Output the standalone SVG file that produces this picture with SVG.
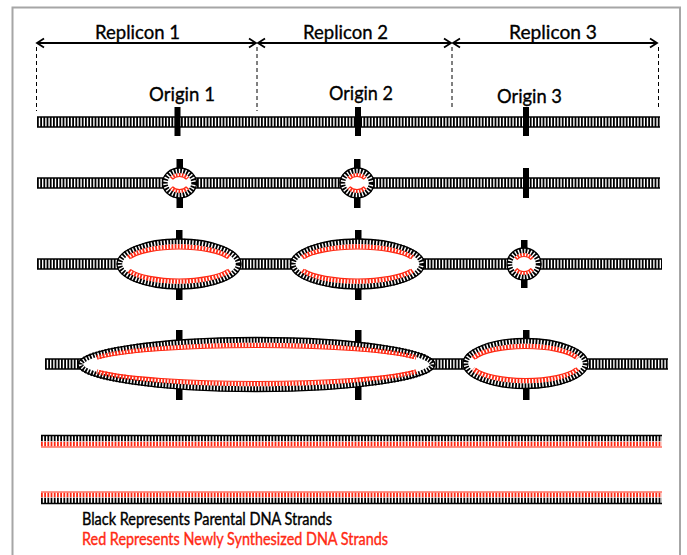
<svg xmlns="http://www.w3.org/2000/svg" width="687" height="555" viewBox="0 0 687 555">
  <defs>
    <marker id="chev" viewBox="-9 -6 11 12" markerWidth="11" markerHeight="12" refX="0" refY="0" orient="auto-start-reverse" markerUnits="userSpaceOnUse">
      <path d="M-7,-4.5 L0,0 L-7,4.5" fill="none" stroke="#000" stroke-width="1.8"/>
    </marker>
    <style>
      .frame { fill: none; stroke: #a6a6a6; stroke-width: 2; }
      .span { stroke: #000; stroke-width: 1.8; marker-start: url(#chev); marker-end: url(#chev); }
      .guide { stroke: #000; stroke-width: 1; stroke-dasharray: 4 3; }
      .lbl { font-family: Lato, "Liberation Sans", sans-serif; font-size: 20px; fill: #000; stroke: #000; stroke-width: 0.35; }
      .legend { font-family: Lato, "Liberation Sans", sans-serif; font-size: 17px; stroke-width: 0.4; }
      .rail { stroke: #000; stroke-width: 1.3; fill: none; }
      .rungs { stroke: #000; stroke-width: 10; stroke-dasharray: 1.8 1.4; fill: none; }
      .halfK { stroke: #000; stroke-width: 5.5; stroke-dasharray: 1.8 1.4; fill: none; }
      .halfR { stroke: #ff2a14; stroke-width: 4.5; stroke-dasharray: 1.8 1.4; fill: none; }
      .halfRs { stroke: #ff2a14; stroke-width: 3.5; stroke-dasharray: 1.6 1.3; fill: none; }
      .railR { stroke: #ff2a14; stroke-width: 1.2; fill: none; }
      .hole { fill: #fff; }
      .ori { fill: #000; }
    </style>
  </defs>

  <!-- outer frame -->
  <path class="frame" d="M12.5,555 V7.5 H680 V555"/>

  <!-- replicon spans -->
  <g id="replicons">
    <line class="span" x1="37" y1="43" x2="256" y2="43"/>
    <line class="span" x1="258" y1="43" x2="451" y2="43"/>
    <line class="span" x1="453" y1="43" x2="657" y2="43"/>
    <line class="guide" x1="36.5" y1="47" x2="36.5" y2="111"/>
    <line class="guide" x1="257" y1="47" x2="257" y2="111"/>
    <line class="guide" x1="452" y1="47" x2="452" y2="107"/>
    <line class="guide" x1="658.5" y1="47" x2="658.5" y2="110"/>
    <text class="lbl" x="137.5" y="39" text-anchor="middle" textLength="85" lengthAdjust="spacingAndGlyphs">Replicon 1</text>
    <text class="lbl" x="345.5" y="38.5" text-anchor="middle" textLength="85" lengthAdjust="spacingAndGlyphs">Replicon 2</text>
    <text class="lbl" x="553" y="38.5" text-anchor="middle" textLength="88" lengthAdjust="spacingAndGlyphs">Replicon 3</text>
    <text class="lbl" x="182" y="101" text-anchor="middle" textLength="66" lengthAdjust="spacingAndGlyphs">Origin 1</text>
    <text class="lbl" x="361" y="100" text-anchor="middle" textLength="64" lengthAdjust="spacingAndGlyphs">Origin 2</text>
    <text class="lbl" x="529.5" y="102.5" text-anchor="middle" textLength="65" lengthAdjust="spacingAndGlyphs">Origin 3</text>
  </g>

  <!-- stage 1: unreplicated duplex -->
  <g id="stage1">
    <line class="rungs" x1="37" y1="122" x2="660" y2="122"/>
    <line class="rail" x1="37" y1="117" x2="660" y2="117"/>
    <line class="rail" x1="37" y1="127" x2="660" y2="127"/>
    <rect class="ori" x="174.5" y="107" width="6" height="29"/>
    <rect class="ori" x="355" y="107" width="6" height="29"/>
    <rect class="ori" x="523" y="107" width="6" height="29"/>
  </g>

  <!-- stage 2: two small bubbles -->
  <g id="stage2">
    <line class="rungs" x1="37" y1="183" x2="660" y2="183"/>
    <line class="rail" x1="37" y1="178" x2="660" y2="178"/>
    <line class="rail" x1="37" y1="188" x2="660" y2="188"/>
    <rect class="ori" x="176.5" y="159" width="6.5" height="49"/>
    <rect class="ori" x="354" y="159" width="6.5" height="49"/>
    <rect class="ori" x="523" y="168" width="6" height="30"/>
    <g id="bubble-2a">
      <ellipse class="hole" cx="179.5" cy="183" rx="17" ry="15"/>
      <ellipse class="halfK" cx="179.5" cy="183" rx="14.5" ry="12.5"/>
      <ellipse class="rail" cx="179.5" cy="183" rx="17" ry="15"/>
      <path class="halfRs" d="M171.10,178.27 A10.25,8.25 0 0 1 187.90,178.27 M187.90,187.73 A10.25,8.25 0 0 1 171.10,187.73"/>
      <path class="railR" d="M172.54,179.27 A8.5,6.5 0 0 1 186.46,179.27 M186.46,186.73 A8.5,6.5 0 0 1 172.54,186.73"/>
    </g>
    <g id="bubble-2b">
      <ellipse class="hole" cx="357" cy="183" rx="17" ry="15"/>
      <ellipse class="halfK" cx="357" cy="183" rx="14.5" ry="12.5"/>
      <ellipse class="rail" cx="357" cy="183" rx="17" ry="15"/>
      <path class="halfRs" d="M348.60,178.27 A10.25,8.25 0 0 1 365.40,178.27 M365.40,187.73 A10.25,8.25 0 0 1 348.60,187.73"/>
      <path class="railR" d="M350.04,179.27 A8.5,6.5 0 0 1 363.96,179.27 M363.96,186.73 A8.5,6.5 0 0 1 350.04,186.73"/>
    </g>
  </g>

  <!-- stage 3: bubbles growing, third origin fires -->
  <g id="stage3">
    <line class="rungs" x1="37" y1="264" x2="662" y2="264"/>
    <line class="rail" x1="37" y1="259" x2="662" y2="259"/>
    <line class="rail" x1="37" y1="269" x2="662" y2="269"/>
    <rect class="ori" x="176" y="230" width="6.5" height="70"/>
    <rect class="ori" x="355" y="230" width="6.5" height="70"/>
    <rect class="ori" x="521" y="240" width="6.5" height="48"/>
    <g id="bubble-3a">
      <ellipse class="hole" cx="179" cy="264" rx="62" ry="25"/>
      <ellipse class="halfK" cx="179" cy="264" rx="59.5" ry="22.5"/>
      <ellipse class="rail" cx="179" cy="264" rx="62" ry="25"/>
      <path class="halfR" d="M128.47,257.44 A54.5,17.5 0 0 1 229.53,257.44 M229.53,270.56 A54.5,17.5 0 0 1 128.47,270.56"/>
      <path class="railR" d="M130.79,258.38 A52,15 0 0 1 227.21,258.38 M227.21,269.62 A52,15 0 0 1 130.79,269.62"/>
    </g>
    <g id="bubble-3b">
      <ellipse class="hole" cx="357.5" cy="264" rx="67" ry="25"/>
      <ellipse class="halfK" cx="357.5" cy="264" rx="64.5" ry="22.5"/>
      <ellipse class="rail" cx="357.5" cy="264" rx="67" ry="25"/>
      <path class="halfR" d="M302.34,257.44 A59.5,17.5 0 0 1 412.66,257.44 M412.66,270.56 A59.5,17.5 0 0 1 302.34,270.56"/>
      <path class="railR" d="M304.65,258.38 A57,15 0 0 1 410.35,258.38 M410.35,269.62 A57,15 0 0 1 304.65,269.62"/>
    </g>
    <g id="bubble-3c">
      <ellipse class="hole" cx="524" cy="264" rx="17" ry="16"/>
      <ellipse class="halfK" cx="524" cy="264" rx="14.5" ry="13.5"/>
      <ellipse class="rail" cx="524" cy="264" rx="17" ry="16"/>
      <path class="halfRs" d="M515.60,258.69 A10.25,9.25 0 0 1 532.40,258.69 M532.40,269.31 A10.25,9.25 0 0 1 515.60,269.31"/>
      <path class="railR" d="M517.04,259.70 A8.5,7.5 0 0 1 530.96,259.70 M530.96,268.30 A8.5,7.5 0 0 1 517.04,268.30"/>
    </g>
  </g>

  <!-- stage 4: bubbles 1 and 2 merged -->
  <g id="stage4">
    <line class="rungs" x1="45" y1="364" x2="668" y2="364"/>
    <line class="rail" x1="45" y1="359" x2="668" y2="359"/>
    <line class="rail" x1="45" y1="369" x2="668" y2="369"/>
    <rect class="ori" x="176" y="330" width="6.5" height="70"/>
    <rect class="ori" x="355" y="330" width="6.5" height="70"/>
    <rect class="ori" x="523" y="330" width="6.5" height="70"/>
    <g id="bubble-4a">
      <ellipse class="hole" cx="256.5" cy="364.5" rx="178.5" ry="27"/>
      <ellipse class="halfK" cx="256.5" cy="364.5" rx="176" ry="24.5"/>
      <ellipse class="rail" cx="256.5" cy="364.5" rx="178.5" ry="27"/>
      <path class="halfR" d="M96.85,357.51 A171,19.5 0 0 1 416.15,357.51 M416.15,371.49 A171,19.5 0 0 1 96.85,371.49"/>
      <path class="railR" d="M99.19,358.41 A168.5,17 0 0 1 413.81,358.41 M413.81,370.59 A168.5,17 0 0 1 99.19,370.59"/>
    </g>
    <g id="bubble-4b">
      <ellipse class="hole" cx="525.5" cy="363.5" rx="62.5" ry="25"/>
      <ellipse class="halfK" cx="525.5" cy="363.5" rx="60" ry="22.5"/>
      <ellipse class="rail" cx="525.5" cy="363.5" rx="62.5" ry="25"/>
      <path class="halfR" d="M473.19,358.09 A55,17.5 0 0 1 577.81,358.09 M577.81,368.91 A55,17.5 0 0 1 473.19,368.91"/>
      <path class="railR" d="M475.57,358.86 A52.5,15 0 0 1 575.43,358.86 M575.43,368.14 A52.5,15 0 0 1 475.57,368.14"/>
    </g>
  </g>

  <!-- stage 5: two daughter duplexes -->
  <g id="daughter-1">
    <line class="halfK" x1="41" y1="438.5" x2="662" y2="438.5"/>
    <line class="halfR" x1="41" y1="444" x2="662" y2="444"/>
    <line class="rail" x1="41" y1="435.5" x2="662" y2="435.5"/>
    <line class="railR" x1="41" y1="447" x2="662" y2="447"/>
  </g>
  <g id="daughter-2">
    <line class="halfR" x1="41" y1="495" x2="662" y2="495"/>
    <line class="halfK" x1="41" y1="500.5" x2="662" y2="500.5"/>
    <line class="railR" x1="41" y1="492" x2="662" y2="492"/>
    <line class="rail" x1="41" y1="503.5" x2="662" y2="503.5"/>
  </g>

  <!-- key -->
  <g id="key">
    <text class="legend" x="82" y="524.5" fill="#000" stroke="#000" textLength="250" lengthAdjust="spacingAndGlyphs">Black Represents Parental DNA Strands</text>
    <text class="legend" x="82" y="545" fill="#ff2a14" stroke="#ff2a14" textLength="306" lengthAdjust="spacingAndGlyphs">Red Represents Newly Synthesized DNA Strands</text>
  </g>
</svg>
